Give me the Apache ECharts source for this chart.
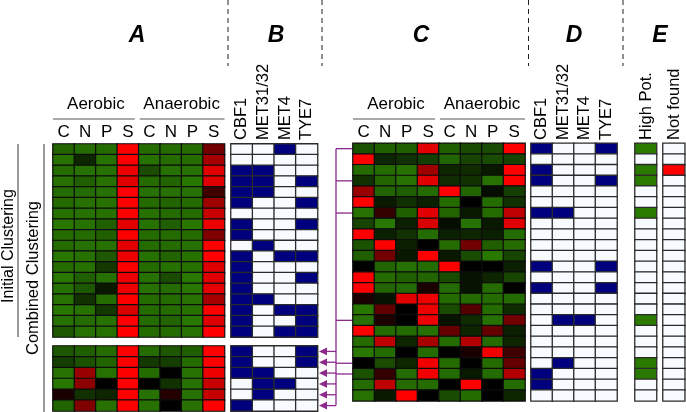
<!DOCTYPE html>
<html><head><meta charset="utf-8">
<script src="https://cdn.jsdelivr.net/npm/echarts@6/dist/echarts.min.js"></script>
<style>html,body{margin:0;padding:0;background:#fff}#c{width:686px;height:412px}</style>
</head><body><div id="c"></div>
<script>
// ---------- labels ----------
const conditionCols = ['C','N','P','S','C','N','P','S'];
const groupLabels = ['Aerobic','Anaerobic'];
const tfCols = ['CBF1','MET31/32','MET4','TYE7'];
const eCols = ['High Pot.','Not found'];
const panelLetters = ['A','B','C','D','E'];
const sideLabels = ['Initial Clustering','Combined Clustering'];

// ---------- data: expression (log-ratio, -1 = green, 0 = black, 1 = red) ----------
const initialExpr = [
 [-0.8,-0.85,-0.85,1, -0.85,-0.85,-0.85,0.45],
 [-0.9,-0.3,-0.9,1, -0.9,-0.85,-0.85,0.65],
 [-0.85,-0.9,-0.9,0.93, -0.6,-0.9,-0.9,0.88],
 [-0.9,-0.75,-0.9,0.88, -0.85,-0.8,-0.95,0.88],
 [-0.85,-0.85,-0.9,1, -0.9,-0.9,-0.9,0.25],
 [-0.85,-0.9,-0.9,1, -0.85,-0.8,-0.85,0.62],
 [-0.9,-0.9,-0.9,1, -0.9,-0.85,-0.85,0.78],
 [-0.95,-0.9,-0.75,0.9, -0.9,-0.75,-0.95,0.93],
 [-0.85,-0.85,-0.75,1, -0.85,-0.85,-0.85,0.5],
 [-0.85,-0.9,-0.9,0.9, -0.85,-0.85,-0.9,1],
 [-0.95,-0.9,-0.7,0.93, -0.9,-0.8,-0.9,1],
 [-0.85,-0.9,-0.45,1, -0.85,-0.9,-0.9,0.88],
 [-0.95,-0.75,-0.9,0.93, -0.9,-0.6,-0.95,0.88],
 [-0.9,-0.7,-0.2,0.93, -0.9,-0.85,-0.95,0.9],
 [-0.9,-0.4,-0.85,1, -0.85,-0.85,-0.9,0.65],
 [-0.95,-0.9,-0.45,0.85, -0.85,-0.85,-0.9,1],
 [-0.9,-0.85,-0.9,1, -0.85,-0.8,-0.95,0.88],
 [-0.7,-0.9,-0.9,1, -0.85,-0.85,-0.9,1]
];
const initialSmallExpr = [
 [-0.7,-0.75,-0.85,1, -0.85,-0.7,-0.75,1],
 [-0.5,-0.65,-0.8,1, -0.45,-0.5,-0.85,1],
 [-0.9,0.6,-0.9,1, -0.85,0,-0.9,0.93],
 [-0.95,0.55,0,1, 0,-0.4,-0.9,0.78],
 [0.1,-0.4,-0.3,1, -0.9,0.15,-0.9,0.78],
 [-0.8,0.5,-0.9,1, -0.9,0,-0.9,1]
];
const combinedExpr = [
 [-0.65,-0.75,-0.75,0.88, -0.75,-0.6,-0.6,1],
 [1,-0.3,-0.4,-0.5, -0.8,-0.55,-0.6,-0.55],
 [-0.85,-0.85,-0.9,0.62, -0.3,-0.35,-0.2,1],
 [-0.4,-0.8,-0.9,0.88, -0.35,-0.4,-0.9,1],
 [0.6,-0.8,-0.75,-0.85, 1,-0.8,-0.1,-0.5],
 [1,-0.2,-0.4,-0.25, -0.85,0,-0.85,-0.4],
 [-0.9,0.2,-0.75,0.88, -0.8,-0.2,-0.85,0.75],
 [-0.55,-0.95,-0.25,0.85, -0.1,-0.9,-0.2,0.88],
 [1,-0.25,-0.4,-0.85, -0.25,-0.3,-0.25,-0.85],
 [-0.65,1,-0.25,0, -0.85,0.45,-0.75,-0.85],
 [-0.75,0.45,-0.2,1, -0.2,-0.6,-0.95,-0.55],
 [0,-0.8,-0.9,-0.85, 1,0,0,-0.25],
 [1,-0.85,-0.75,-0.8, -0.6,-0.15,-0.3,-0.55],
 [1,-0.8,-0.85,0.1, -0.85,-0.15,-0.85,0],
 [0.1,-0.15,0.88,0.93, -0.85,-0.85,-0.85,-0.85],
 [-0.95,0.38,0,0.93, -0.6,0.32,-0.85,-0.35],
 [-0.9,0.12,0,0.93, -0.15,-0.35,-0.9,0.45],
 [1,-0.85,-0.85,-0.9, 0.4,-0.3,0.4,-0.25],
 [-0.85,0.75,-0.3,0.65, -0.85,0.7,-0.85,-0.3],
 [-0.95,-0.85,0,-0.85, 0,0.1,0.95,0.25],
 [0,-0.6,-0.3,0.95, -0.85,0,-0.85,0.4],
 [-0.65,0.2,-0.85,0.95, -0.85,-0.2,-0.85,0.7],
 [-0.85,0.75,-0.85,-0.85, 0,1,0,-0.85],
 [-0.9,-0.2,1,0, -0.6,-0.85,0,-0.3]
];
// ---------- data: TF binding (1 = bound) ----------
const initialTF = [
 [0,0,1,0],[0,0,0,0],[1,1,0,0],[1,1,0,1],[1,1,0,0],[1,0,0,1],
 [0,0,0,0],[1,0,0,1],[1,0,0,0],[0,1,0,0],[1,0,1,1],[1,0,0,0],
 [1,0,0,1],[1,0,0,0],[1,1,0,0],[1,0,1,1],[1,0,0,1],[1,0,1,1]
];
const initialSmallTF = [[1,0,0,1],[1,0,0,1],[1,1,0,0],[0,1,1,0],[0,1,0,0],[1,0,0,0]];
const combinedTF = [
 [1,0,0,1],[0,0,0,0],[1,0,0,0],[1,0,0,1],[0,0,0,0],[0,0,0,0],
 [1,1,0,0],[0,0,0,0],[0,0,0,0],[0,0,0,0],[0,0,0,0],[1,0,0,1],
 [0,0,0,0],[1,0,0,1],[0,0,0,0],[0,0,0,0],[0,1,1,0],[0,0,0,0],
 [0,0,0,0],[0,0,0,0],[0,1,0,0],[1,0,0,0],[1,0,0,0],[0,0,0,0]
];
const highPot  = [1,0,1,1,0,0,1,0,0,0,0,0,0,0,0,0,1,0,0,0,1,1,0,0];
const notFound = [0,0,1,0,0,0,0,0,0,0,0,0,0,0,0,0,0,0,0,0,0,0,0,0];
// rows of the combined clustering that hold the small initial cluster
const movedRows = [0,3,6,16,20,21];

// ---------- layout ----------
const G = {
  aTop: {left:53, top:144, width:171.5, height:193},
  aBot: {left:53, top:346, width:171.5, height:65},
  bTop: {left:231, top:144, width:86.5, height:193},
  bBot: {left:231, top:346, width:86.5, height:65},
  c:    {left:353, top:143.3, width:172, height:257.5},
  d:    {left:531, top:143.3, width:86, height:257.5},
  e1:   {left:635, top:143.3, width:21.5, height:257.5},
  e2:   {left:663, top:143.3, width:21.7, height:257.5}
};
const gridKeys = ['aTop','aBot','bTop','bBot','c','d','e1','e2'];
const mats = [initialExpr, initialSmallExpr, initialTF, initialSmallTF, combinedExpr, combinedTF,
              highPot.map(v=>[v]), notFound.map(v=>[v])];

function toHeat(m){ const out=[]; m.forEach((row,r)=>row.forEach((v,c)=>out.push([c,r,v]))); return out; }

const grids=[], xAxes=[], yAxes=[], series=[];
gridKeys.forEach((k,i)=>{
  const g=G[k], m=mats[i];
  grids.push({left:g.left, top:g.top, width:g.width, height:g.height, containLabel:false});
  xAxes.push({type:'category', gridIndex:i, data:m[0].map((_,j)=>j), show:false});
  yAxes.push({type:'category', gridIndex:i, data:m.map((_,j)=>j), inverse:true, show:false});
  const isExpr = (i===0||i===1||i===4);
  series.push({type:'heatmap', xAxisIndex:i, yAxisIndex:i, data:toHeat(m), progressive:0,
    itemStyle:{borderColor: isExpr?'#0d0d0d':'#2b2b2b', borderWidth: isExpr?1.2:1.3},
    emphasis:{disabled:true}, silent:true});
});

const txt = (o)=>Object.assign({type:'text', silent:true}, o);
const graphic=[];
const FONT = '"Liberation Sans", Arial, sans-serif';
// panel letters
const letterX=[137,276,421,574,660];
panelLetters.forEach((t,i)=>graphic.push(txt({x:letterX[i], y:36, style:{text:t, font:'italic bold 23px '+FONT, fill:'#000', textAlign:'center', textVerticalAlign:'middle'}})));
// dashed separators
[228,322,528.5,623].forEach(x=>graphic.push({type:'line', silent:true, shape:{x1:x,y1:0,x2:x,y2:66}, style:{stroke:'#222', lineWidth:1, lineDash:[5,4]}}));
// condition headers for A and C
[['aTop'],['c']].forEach(([k])=>{
  const g=G[k], cw=g.width/8;
  groupLabels.forEach((t,gi)=>{
    const x0=g.left+gi*4*cw;
    graphic.push(txt({x:x0+2*cw, y:104, style:{text:t, font:'17px '+FONT, fill:'#000', textAlign:'center', textVerticalAlign:'middle'}}));
    graphic.push({type:'line', silent:true, shape:{x1:x0+(gi?1:0), y1:119, x2:x0+4*cw-(gi?0:4), y2:119}, style:{stroke:'#555', lineWidth:1}});
  });
  conditionCols.forEach((t,j)=>graphic.push(txt({x:g.left+(j+0.5)*cw, y:132, style:{text:t, font:'17px '+FONT, fill:'#000', textAlign:'center', textVerticalAlign:'middle'}})));
});
// rotated column labels
function rotLabels(k, labels){
  const g=G[k], cw=g.width/labels.length;
  labels.forEach((t,j)=>graphic.push(txt({x:g.left+(j+0.5)*cw, y:140, rotation:Math.PI/2,
    style:{text:t, font:'16.5px '+FONT, fill:'#000', textAlign:'left', textVerticalAlign:'middle'}})));
}
rotLabels('bTop', tfCols); rotLabels('d', tfCols);
[['e1',eCols[0]],['e2',eCols[1]]].forEach(([k,t])=>{const g=G[k]; graphic.push(txt({x:g.left+g.width/2+1, y:140, rotation:Math.PI/2,
    style:{text:t, font:'16.5px '+FONT, fill:'#000', textAlign:'left', textVerticalAlign:'middle'}}));});
// side labels
graphic.push(txt({x:9, y:246, rotation:Math.PI/2, style:{text:sideLabels[0], font:'16px '+FONT, fill:'#000', textAlign:'center', textVerticalAlign:'middle'}}));
graphic.push(txt({x:33, y:278, rotation:Math.PI/2, style:{text:sideLabels[1], font:'16.5px '+FONT, fill:'#000', textAlign:'center', textVerticalAlign:'middle'}}));
graphic.push({type:'line', silent:true, shape:{x1:18,y1:G.aTop.top,x2:18,y2:G.aTop.top+G.aTop.height}, style:{stroke:'#333', lineWidth:1}});
graphic.push({type:'line', silent:true, shape:{x1:44,y1:G.aTop.top,x2:44,y2:412}, style:{stroke:'#333', lineWidth:1}});

const chart = echarts.init(document.getElementById('c'), null, {renderer:'canvas'});
chart.setOption({
  animation:false, backgroundColor:'#fff',
  grid:grids, xAxis:xAxes, yAxis:yAxes,
  visualMap:[
    {type:'continuous', min:-1, max:1, seriesIndex:[0,1,4], show:false, inRange:{color:['#2a7e00','#000000','#ff0000']}},
    {type:'piecewise', seriesIndex:[2,3,5], show:false, pieces:[{value:0,color:'#f7fbff'},{value:1,color:'#00007f'}]},
    {type:'piecewise', seriesIndex:[6], show:false, pieces:[{value:0,color:'#f7fbff'},{value:1,color:'#2a7a00'}]},
    {type:'piecewise', seriesIndex:[7], show:false, pieces:[{value:0,color:'#f7fbff'},{value:1,color:'#ff0000'}]}
  ],
  series:series, graphic:graphic
});

// connectors computed from the grids
const PURPLE='#8b2a8b';
const cx = 336;
const cIdx = gridKeys.indexOf('c'), bbIdx = gridKeys.indexOf('bBot');
const cLeft = G.c.left, bRight = G.bBot.left+G.bBot.width;
const conn=[];
const cYs = movedRows.map(r=>chart.convertToPixel({gridIndex:cIdx},[0,r])[1]);
const bYs = initialSmallTF.map((_,r)=>chart.convertToPixel({gridIndex:bbIdx},[0,r])[1]);
cYs.forEach(y=>conn.push({type:'line', silent:true, shape:{x1:cx,y1:y,x2:cLeft,y2:y}, style:{stroke:PURPLE,lineWidth:1.3}}));
bYs.forEach(y=>{
  conn.push({type:'line', silent:true, shape:{x1:cx,y1:y,x2:bRight+6,y2:y}, style:{stroke:PURPLE,lineWidth:1.3}});
  conn.push({type:'polygon', silent:true, shape:{points:[[bRight+1.5,y],[bRight+9.5,y-3.8],[bRight+9.5,y+3.8]]}, style:{fill:PURPLE}});
});
conn.push({type:'line', silent:true, shape:{x1:cx,y1:Math.min(...cYs),x2:cx,y2:Math.max(...bYs)}, style:{stroke:PURPLE,lineWidth:1.3}});
chart.setOption({graphic:graphic.concat(conn)});
</script></body></html>
